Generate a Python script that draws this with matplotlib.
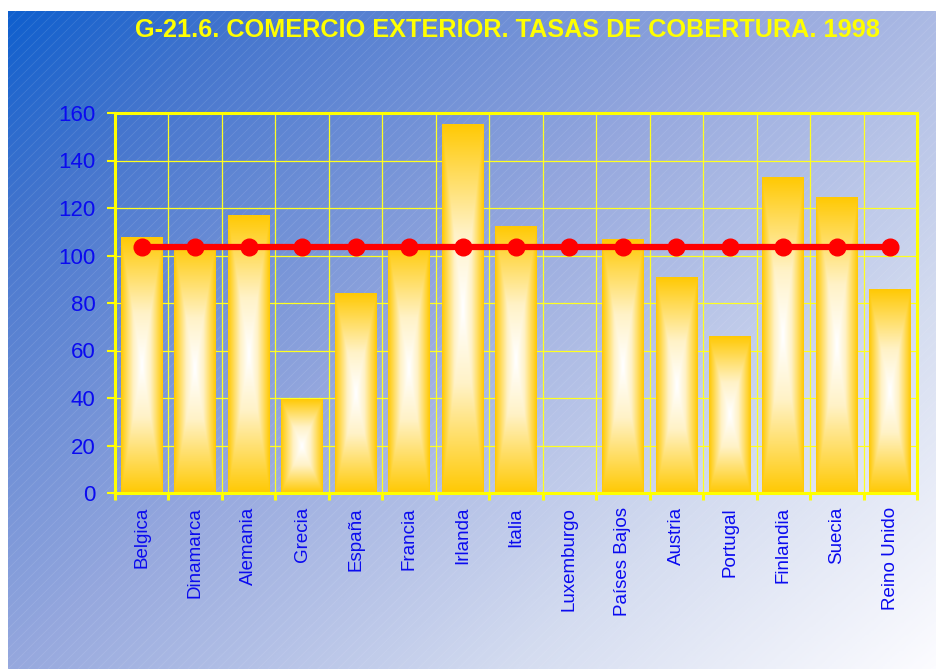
import matplotlib
matplotlib.use("Agg")
import matplotlib.pyplot as plt
import numpy as np
from matplotlib.colors import LinearSegmentedColormap

# Tasas de cobertura por pais (1998)
paises = ["Belgica", "Dinamarca", "Alemania", "Grecia", "España", "Francia",
          "Irlanda", "Italia", "Luxemburgo", "Países Bajos", "Austria",
          "Portugal", "Finlandia", "Suecia", "Reino Unido"]
tasas = [107.4, 104.8, 117.0, 39.5, 84.0, 104.5, 155.0, 112.4, 0.0,
         106.8, 90.6, 66.1, 133.0, 124.6, 85.5]
media_ue = [103.4] * len(paises)

titulo = "G-21.6. COMERCIO EXTERIOR. TASAS DE COBERTURA. 1998"

plt.rcParams['font.family'] = ['Liberation Sans', 'DejaVu Sans']

W, H = 937, 669
fig = plt.figure(figsize=(W / 100, H / 100), dpi=100)
fig.patch.set_facecolor("white")

# fondo degradado azul -> blanco con rayado diagonal
bg = fig.add_axes([8 / W, 0, 929 / W, 658 / H])
bg.set_axis_off()
gx, gy = np.meshgrid(np.linspace(0, 1, 400), np.linspace(0, 1, 300))
t = (gx * 0.55 + gy * 0.45)
bg_cmap = LinearSegmentedColormap.from_list("bg", [
    (0.0, (15 / 255, 95 / 255, 205 / 255)),
    (0.15, (70 / 255, 118 / 255, 206 / 255)),
    (0.45, (150 / 255, 168 / 255, 222 / 255)),
    (0.75, (212 / 255, 220 / 255, 240 / 255)),
    (1.0, (252 / 255, 252 / 255, 255 / 255))])
bg.imshow(t, cmap=bg_cmap, extent=[0, 929, 658, 0], aspect="auto")
for c in range(-700, 930, 10):
    bg.plot([c, c + 700], [658, -42], color="white", lw=0.5, alpha=0.13)
bg.set_xlim(0, 929)
bg.set_ylim(658, 0)

ax = fig.add_axes([115 / W, 1 - 493 / H, (917 - 115) / W, (493 - 113) / H])
ax.set_facecolor("none")

# barras con degradado rectangular dorado -> blanco
bar_cmap = LinearSegmentedColormap.from_list("bar", [
    (0.0, (1, 1, 1)), (0.4, (1, 0.95, 0.78)), (0.78, (1, 0.85, 0.3)),
    (1.0, (1, 0.79, 0.02))])
u, v = np.meshgrid(np.linspace(-1, 1, 60), np.linspace(-1, 1, 200))
grad = np.maximum(np.abs(u), np.abs(v))
bw = 0.39
for i, val in enumerate(tasas):
    if val <= 0:
        continue
    ax.imshow(grad, cmap=bar_cmap, extent=[i - bw, i + bw, 0, val],
              aspect="auto", zorder=2, interpolation="bilinear")

x = np.arange(len(paises))
ax.plot(x, media_ue, color="#FF0000", lw=4.5, marker="o", ms=12, zorder=4)

ax.set_xlim(-0.5, len(paises) - 0.5)
ax.set_ylim(0, 160)
ax.set_yticks(np.arange(0, 161, 20))
ax.set_xticks(np.arange(-0.5, len(paises), 1))
ax.set_xticklabels([])
ax.set_xticks(x, minor=True)
ax.set_xticklabels(paises, minor=True, rotation=90, va="top")

ax.grid(True, which="major", color="#FFFF20", lw=0.9, zorder=1)
ax.set_axisbelow(True)
for s in ax.spines.values():
    s.set_color("#FFFF00")
    s.set_linewidth(2.2)
ax.tick_params(axis="y", colors="#FFFF00", labelcolor="#0A0AF0", length=6,
               width=1.5, labelsize=16, pad=8)
ax.tick_params(axis="x", which="major", colors="#FFFF00", length=5, width=2.2)
ax.tick_params(axis="x", which="minor", length=0, labelcolor="#0A0AF0",
               labelsize=13.5, pad=10)

fig.text(507 / W, 1 - 30 / H, titulo, color="#FFFF00", fontsize=18.2,
         fontweight="bold", ha="center", va="center")

fig.savefig("out.png", dpi=100)
